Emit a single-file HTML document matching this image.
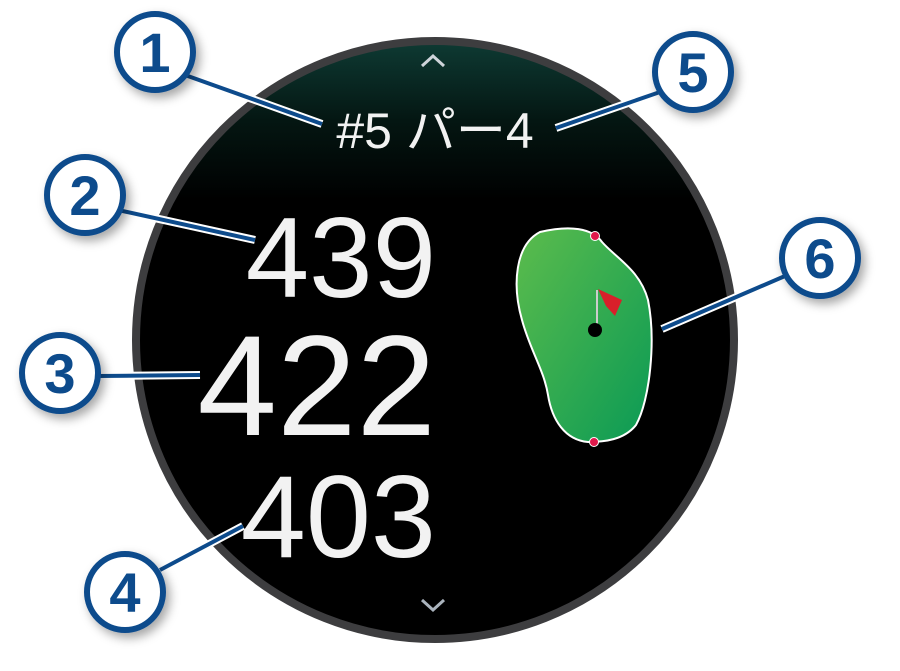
<!DOCTYPE html>
<html><head><meta charset="utf-8"><style>
html,body{margin:0;padding:0;background:#fff;}
svg{display:block}
</style></head><body>
<svg width="900" height="671" viewBox="0 0 900 671" xmlns="http://www.w3.org/2000/svg">
<defs>
<linearGradient id="bg" x1="0" y1="42" x2="0" y2="200" gradientUnits="userSpaceOnUse">
<stop offset="0" stop-color="#0e3a33"/>
<stop offset="0.5" stop-color="#041612"/>
<stop offset="1" stop-color="#000"/>
</linearGradient>
<linearGradient id="gr" x1="0" y1="0" x2="1" y2="1">
<stop offset="0" stop-color="#5cbc4c"/>
<stop offset="1" stop-color="#0a9a55"/>
</linearGradient>
<filter id="sh" x="-50%" y="-50%" width="200%" height="200%">
<feDropShadow dx="4" dy="5" stdDeviation="5" flood-color="#000" flood-opacity="0.35"/>
</filter>
</defs>
<circle cx="435" cy="340" r="299" fill="url(#bg)" stroke="#3d3d3f" stroke-width="8"/>
<polyline points="422,66 433,56 444,66" fill="none" stroke="#cfd4da" stroke-width="3"/>
<polyline points="422,600 433,610 444,600" fill="none" stroke="#aab3bd" stroke-width="3"/>
<g fill="#f2f2f2" font-family="Liberation Sans, 'Noto Sans CJK JP', sans-serif">
<text x="435" y="148" font-size="50" text-anchor="middle">#5 パー4</text>
<text x="436" y="297" font-size="114" text-anchor="end">439</text>
<text x="436" y="435" font-size="143" text-anchor="end">422</text>
<text x="436" y="557" font-size="117" text-anchor="end">403</text>
</g>
<path d="M540,232 C570,225 592,228 602,242 C616,258 640,270 648,300 C656,340 650,400 636,425 C624,440 604,442 588,442 C565,440 552,420 548,395 C544,370 530,350 522,320 C512,285 515,245 540,232 Z" fill="url(#gr)" stroke="#fff" stroke-width="2"/>
<circle cx="595" cy="236" r="4.5" fill="#e0194b" stroke="#fff" stroke-width="1"/>
<circle cx="594" cy="442" r="4.5" fill="#e0194b" stroke="#fff" stroke-width="1"/>
<line x1="597" y1="290" x2="597" y2="326" stroke="#ccc" stroke-width="2"/>
<polygon points="598,289 622,300 615,316 606,306" fill="#d8202a"/>
<circle cx="595" cy="330" r="7" fill="#000"/>
<g stroke-linecap="butt">
<g stroke="#fff" stroke-width="8">
<line x1="185" y1="75" x2="322" y2="124"/>
<line x1="660" y1="92" x2="556" y2="128"/>
<line x1="118" y1="210" x2="255" y2="240"/>
<line x1="98" y1="376" x2="200" y2="375"/>
<line x1="160" y1="570" x2="243" y2="526"/>
<line x1="785" y1="276" x2="662" y2="329"/>
</g>
<g stroke="#0d4b8c" stroke-width="4">
<line x1="185" y1="75" x2="322" y2="124"/>
<line x1="660" y1="92" x2="556" y2="128"/>
<line x1="118" y1="210" x2="255" y2="240"/>
<line x1="98" y1="376" x2="200" y2="375"/>
<line x1="160" y1="570" x2="243" y2="526"/>
<line x1="785" y1="276" x2="662" y2="329"/>
</g>
</g>
<g filter="url(#sh)" fill="#fff" stroke="#0d4b8c" stroke-width="6">
<circle cx="155" cy="52" r="38"/>
<circle cx="693" cy="72" r="38"/>
<circle cx="85" cy="195" r="38"/>
<circle cx="60" cy="373" r="38"/>
<circle cx="125" cy="592" r="38"/>
<circle cx="820" cy="258" r="38"/>
</g>
<g fill="#0d4b8c" font-family="Liberation Sans, sans-serif" font-weight="bold" font-size="56" text-anchor="middle">
<text x="155" y="72">1</text>
<text x="693" y="92">5</text>
<text x="85" y="215">2</text>
<text x="60" y="393">3</text>
<text x="125" y="612">4</text>
<text x="820" y="278">6</text>
</g>
</svg>
</body></html>
